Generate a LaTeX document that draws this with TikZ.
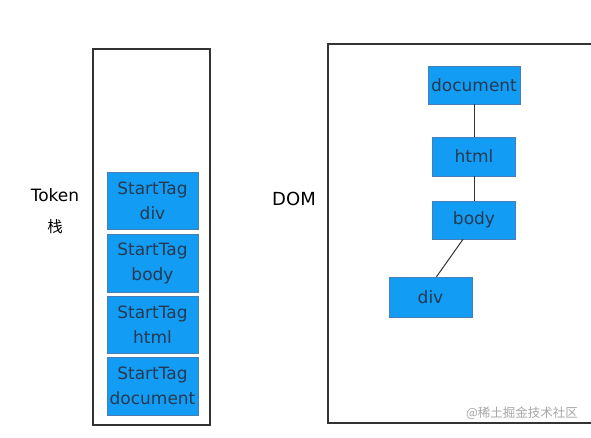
\documentclass[tikz,border=0pt]{standalone}
\usepackage{fontspec}
\setmainfont{DejaVu Sans}
\newfontfamily\cjk{Noto Sans CJK SC}
\definecolor{tagblue}{HTML}{139CF3}
\definecolor{tagedge}{HTML}{4A7FB5}
\definecolor{tagtext}{HTML}{243A52}
\definecolor{frame}{HTML}{333333}
\tikzset{
  tagbox/.style={draw=tagedge, fill=tagblue, line width=0.6pt, text=tagtext,
    inner sep=0pt, align=center, font=\fontsize{17}{25}\selectfont},
  framebox/.style={draw=frame, line width=1.4pt, inner sep=0pt},
  link/.style={draw=frame, line width=1pt}
}
\begin{document}
\begin{tikzpicture}[x=1pt, y=-1pt]
\useasboundingbox (0,0) rectangle (591,437);

% stack
\node(stack)[framebox, minimum width=117pt, minimum height=376pt] at (151.5, 237) {};
\node(token) at (55, 195) {\fontsize{17}{20}\selectfont Token};
\node(zhan) at (55, 227) {\cjk\fontsize{15.5}{18}\selectfont 栈};

\node(tk1)[tagbox, minimum width=91pt, minimum height=57pt] at (152.5, 200.5) {StartTag\\div};
\node(tk2)[tagbox, minimum width=91pt, minimum height=58pt] at (152.5, 263) {StartTag\\body};
\node(tk3)[tagbox, minimum width=91pt, minimum height=57pt] at (152.5, 324.5) {StartTag\\html};
\node(tk4)[tagbox, minimum width=91pt, minimum height=58pt] at (152.5, 386) {StartTag\\document};

% dom tree
\node(dom)[framebox, minimum width=272pt, minimum height=379pt] at (464, 233.5) {};
\node(domlabel) at (294, 199) {\fontsize{18}{20}\selectfont DOM};

\node(doc)[tagbox, minimum width=92pt, minimum height=38pt] at (474, 85) {document};
\node(html)[tagbox, minimum width=83pt, minimum height=39pt] at (474, 156.5) {html};
\node(body)[tagbox, minimum width=83pt, minimum height=38pt] at (474, 220) {body};
\node(div)[tagbox, minimum width=83pt, minimum height=40pt] at (430.5, 297) {div};

\draw[link] (doc)--(html);
\draw[link] (html)--(body);
\draw[link] ([xshift=-11pt]body.south)--([xshift=6pt]div.north);

\node(mark)[text=black!35] at (522, 413) {\cjk\fontsize{12.5}{14}\selectfont @稀土掘金技术社区};
\end{tikzpicture}
\end{document}
